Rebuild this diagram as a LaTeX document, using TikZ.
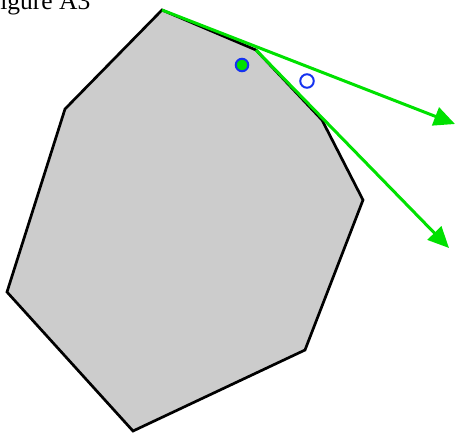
\documentclass[tikz,border=0pt]{standalone}
\usepackage{fontspec}
\setmainfont{Liberation Serif}
\usetikzlibrary{arrows.meta}
\definecolor{polyfill}{RGB}{204,204,204}
\definecolor{arrowgreen}{RGB}{0,225,0}
\definecolor{ptblue}{RGB}{20,50,240}
\tikzset{
  polyedge/.style={draw=black, line width=2.7pt, fill=polyfill, line join=miter},
  ray/.style={draw=arrowgreen, line width=3pt, -{Triangle[length=21pt,width=19pt]}},
  fullpt/.style={circle, draw=ptblue, fill=arrowgreen, line width=2pt, minimum size=12.5pt, inner sep=0pt},
  openpt/.style={circle, draw=ptblue, fill=white, line width=2pt, minimum size=13.5pt, inner sep=0pt},
}
\begin{document}
\begin{tikzpicture}[x=1pt,y=-1pt]
\useasboundingbox (0,0) rectangle (455,432);
\coordinate (v1) at (162,10);
\coordinate (v2) at (256,50);
\coordinate (v3) at (322,120);
\coordinate (v4) at (363,200);
\coordinate (v5) at (305,350);
\coordinate (v6) at (133,431);
\coordinate (v7) at (7,292);
\coordinate (v8) at (65,109);
\draw[polyedge] (v1) -- (v2) -- (v3) -- (v4) -- (v5) -- (v6) -- (v7) -- (v8) -- cycle;
\node[anchor=base west, font=\fontsize{25.5}{30}\selectfont, inner sep=0pt] (title) at (-14,9) {Figure A3};
\coordinate (t1) at (455,124);
\coordinate (t2) at (449,248);
\draw[ray] (v1) -- (t1);
\draw[ray] (v2) -- (t2);
\node[fullpt] (p1) at (242,65) {};
\node[openpt] (p2) at (307,81) {};
\end{tikzpicture}
\end{document}
